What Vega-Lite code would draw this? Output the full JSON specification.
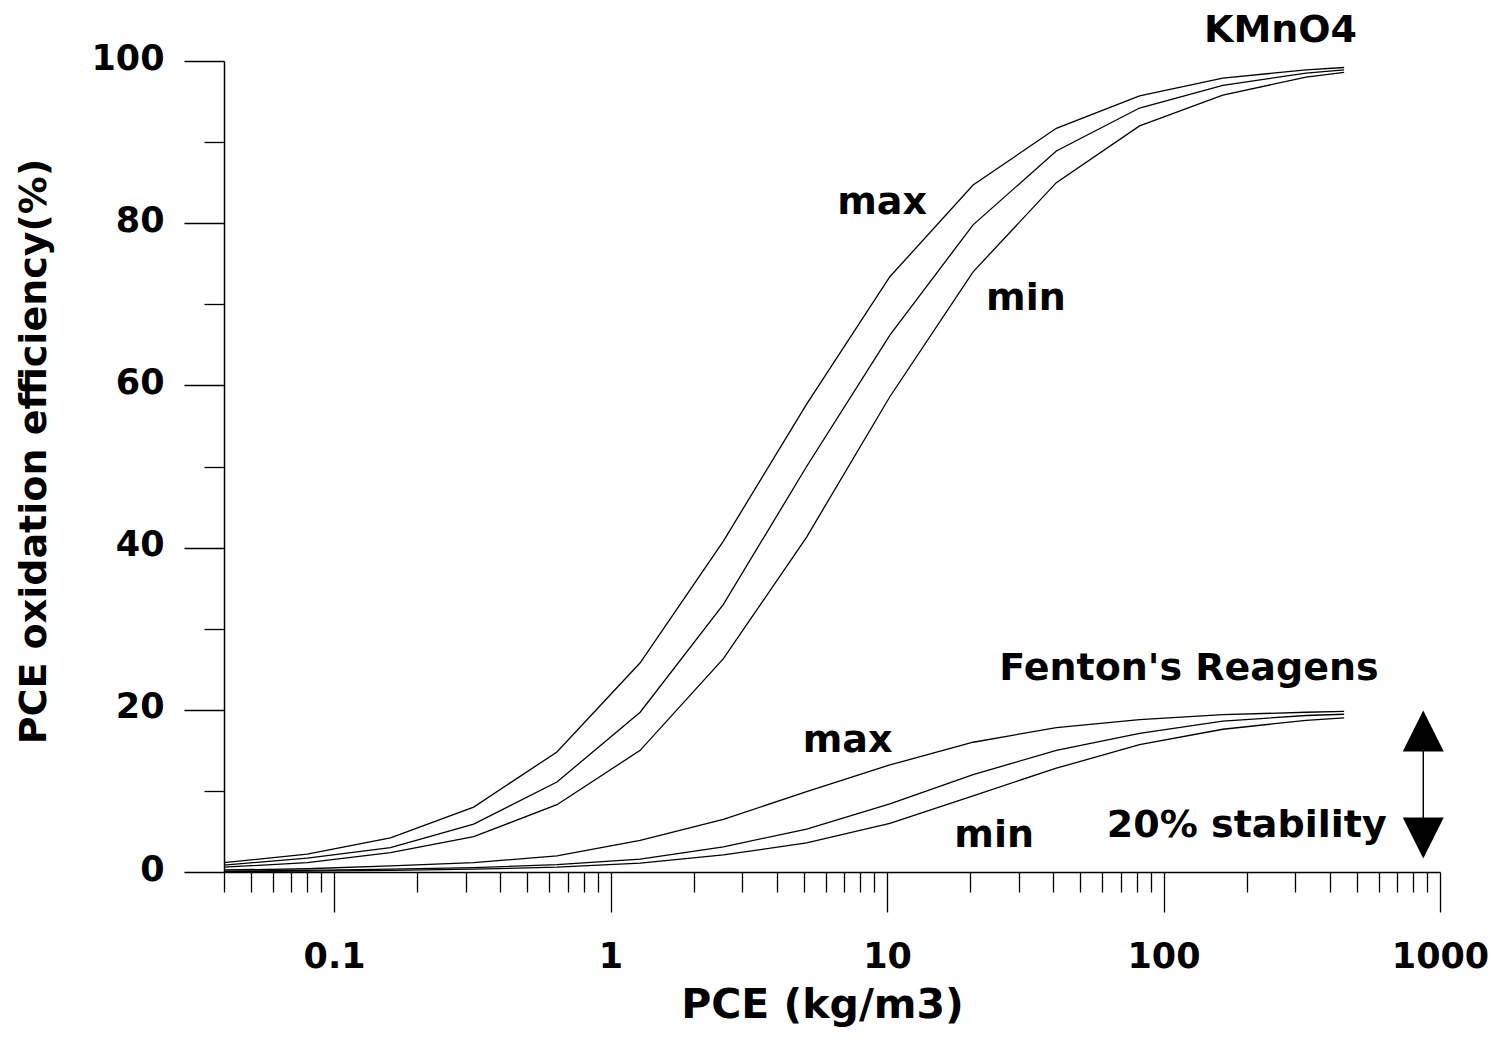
{
  "$schema": "https://vega.github.io/schema/vega-lite/v6.json",
  "width": 1216,
  "height": 811,
  "autosize": {"type": "none"},
  "padding": {"left": 224, "top": 61, "right": 52, "bottom": 168},
  "background": "white",
  "config": {
    "view": {"stroke": null},
    "axis": {"grid": false}
  },
  "datasets": {
    "curves": [
      {"curve": "KMnO4 max", "pce": 0.04, "eff": 1.15},
      {"curve": "KMnO4 max", "pce": 0.08, "eff": 2.2},
      {"curve": "KMnO4 max", "pce": 0.16, "eff": 4.2},
      {"curve": "KMnO4 max", "pce": 0.32, "eff": 8.0},
      {"curve": "KMnO4 max", "pce": 0.64, "eff": 14.8},
      {"curve": "KMnO4 max", "pce": 1.28, "eff": 25.8},
      {"curve": "KMnO4 max", "pce": 2.56, "eff": 40.8},
      {"curve": "KMnO4 max", "pce": 5.12, "eff": 57.7},
      {"curve": "KMnO4 max", "pce": 10.24, "eff": 73.4},
      {"curve": "KMnO4 max", "pce": 20.48, "eff": 84.7},
      {"curve": "KMnO4 max", "pce": 40.96, "eff": 91.7},
      {"curve": "KMnO4 max", "pce": 81.92, "eff": 95.7},
      {"curve": "KMnO4 max", "pce": 163.84, "eff": 97.9},
      {"curve": "KMnO4 max", "pce": 327.68, "eff": 98.9},
      {"curve": "KMnO4 max", "pce": 450, "eff": 99.2},

      {"curve": "KMnO4 mid", "pce": 0.04, "eff": 0.85},
      {"curve": "KMnO4 mid", "pce": 0.08, "eff": 1.7},
      {"curve": "KMnO4 mid", "pce": 0.16, "eff": 3.0},
      {"curve": "KMnO4 mid", "pce": 0.32, "eff": 5.9},
      {"curve": "KMnO4 mid", "pce": 0.64, "eff": 11.1},
      {"curve": "KMnO4 mid", "pce": 1.28, "eff": 19.7},
      {"curve": "KMnO4 mid", "pce": 2.56, "eff": 33.0},
      {"curve": "KMnO4 mid", "pce": 5.12, "eff": 50.0},
      {"curve": "KMnO4 mid", "pce": 10.24, "eff": 66.2},
      {"curve": "KMnO4 mid", "pce": 20.48, "eff": 79.8},
      {"curve": "KMnO4 mid", "pce": 40.96, "eff": 88.9},
      {"curve": "KMnO4 mid", "pce": 81.92, "eff": 94.2},
      {"curve": "KMnO4 mid", "pce": 163.84, "eff": 97.0},
      {"curve": "KMnO4 mid", "pce": 327.68, "eff": 98.5},
      {"curve": "KMnO4 mid", "pce": 450, "eff": 98.9},

      {"curve": "KMnO4 min", "pce": 0.04, "eff": 0.6},
      {"curve": "KMnO4 min", "pce": 0.08, "eff": 1.15},
      {"curve": "KMnO4 min", "pce": 0.16, "eff": 2.4},
      {"curve": "KMnO4 min", "pce": 0.32, "eff": 4.35},
      {"curve": "KMnO4 min", "pce": 0.64, "eff": 8.3},
      {"curve": "KMnO4 min", "pce": 1.28, "eff": 15.0},
      {"curve": "KMnO4 min", "pce": 2.56, "eff": 26.3},
      {"curve": "KMnO4 min", "pce": 5.12, "eff": 41.3},
      {"curve": "KMnO4 min", "pce": 10.24, "eff": 58.6},
      {"curve": "KMnO4 min", "pce": 20.48, "eff": 74.0},
      {"curve": "KMnO4 min", "pce": 40.96, "eff": 85.0},
      {"curve": "KMnO4 min", "pce": 81.92, "eff": 92.0},
      {"curve": "KMnO4 min", "pce": 163.84, "eff": 95.8},
      {"curve": "KMnO4 min", "pce": 327.68, "eff": 98.0},
      {"curve": "KMnO4 min", "pce": 450, "eff": 98.6},

      {"curve": "Fenton max", "pce": 0.04, "eff": 0.25},
      {"curve": "Fenton max", "pce": 0.08, "eff": 0.4},
      {"curve": "Fenton max", "pce": 0.16, "eff": 0.75},
      {"curve": "Fenton max", "pce": 0.32, "eff": 1.15},
      {"curve": "Fenton max", "pce": 0.64, "eff": 2.0},
      {"curve": "Fenton max", "pce": 1.28, "eff": 3.9},
      {"curve": "Fenton max", "pce": 2.56, "eff": 6.5},
      {"curve": "Fenton max", "pce": 5.12, "eff": 9.9},
      {"curve": "Fenton max", "pce": 10.24, "eff": 13.2},
      {"curve": "Fenton max", "pce": 20.48, "eff": 16.0},
      {"curve": "Fenton max", "pce": 40.96, "eff": 17.8},
      {"curve": "Fenton max", "pce": 81.92, "eff": 18.8},
      {"curve": "Fenton max", "pce": 163.84, "eff": 19.4},
      {"curve": "Fenton max", "pce": 327.68, "eff": 19.7},
      {"curve": "Fenton max", "pce": 450, "eff": 19.8},

      {"curve": "Fenton mid", "pce": 0.04, "eff": 0.12},
      {"curve": "Fenton mid", "pce": 0.08, "eff": 0.2},
      {"curve": "Fenton mid", "pce": 0.16, "eff": 0.35},
      {"curve": "Fenton mid", "pce": 0.32, "eff": 0.55},
      {"curve": "Fenton mid", "pce": 0.64, "eff": 0.9},
      {"curve": "Fenton mid", "pce": 1.28, "eff": 1.6},
      {"curve": "Fenton mid", "pce": 2.56, "eff": 3.1},
      {"curve": "Fenton mid", "pce": 5.12, "eff": 5.3},
      {"curve": "Fenton mid", "pce": 10.24, "eff": 8.4},
      {"curve": "Fenton mid", "pce": 20.48, "eff": 12.0},
      {"curve": "Fenton mid", "pce": 40.96, "eff": 15.0},
      {"curve": "Fenton mid", "pce": 81.92, "eff": 17.1},
      {"curve": "Fenton mid", "pce": 163.84, "eff": 18.6},
      {"curve": "Fenton mid", "pce": 327.68, "eff": 19.3},
      {"curve": "Fenton mid", "pce": 450, "eff": 19.45},

      {"curve": "Fenton min", "pce": 0.04, "eff": 0.05},
      {"curve": "Fenton min", "pce": 0.08, "eff": 0.1},
      {"curve": "Fenton min", "pce": 0.16, "eff": 0.2},
      {"curve": "Fenton min", "pce": 0.32, "eff": 0.35},
      {"curve": "Fenton min", "pce": 0.64, "eff": 0.6},
      {"curve": "Fenton min", "pce": 1.28, "eff": 1.1},
      {"curve": "Fenton min", "pce": 2.56, "eff": 2.1},
      {"curve": "Fenton min", "pce": 5.12, "eff": 3.6},
      {"curve": "Fenton min", "pce": 10.24, "eff": 6.0},
      {"curve": "Fenton min", "pce": 20.48, "eff": 9.4},
      {"curve": "Fenton min", "pce": 40.96, "eff": 12.8},
      {"curve": "Fenton min", "pce": 81.92, "eff": 15.7},
      {"curve": "Fenton min", "pce": 163.84, "eff": 17.6},
      {"curve": "Fenton min", "pce": 327.68, "eff": 18.7},
      {"curve": "Fenton min", "pce": 450, "eff": 19.0}
    ],
    "notes": [
      {"label": "KMnO4", "pce": 265, "eff": 102.4},
      {"label": "max", "pce": 9.6, "eff": 81.1},
      {"label": "min", "pce": 31.8, "eff": 69.3},
      {"label": "Fenton's Reagens", "pce": 123.6, "eff": 23.7},
      {"label": "max", "pce": 7.2, "eff": 14.8},
      {"label": "min", "pce": 24.4, "eff": 3.1},
      {"label": "20% stability", "pce": 200, "eff": 4.35}
    ],
    "shaft": [
      {"pce": 870, "eff": 17.4, "eff2": 4.2}
    ],
    "heads": [
      {"pce": 870, "eff": 17.4, "head": "up"},
      {"pce": 870, "eff": 4.2, "head": "down"}
    ]
  },
  "encoding": {
    "x": {
      "field": "pce",
      "type": "quantitative",
      "scale": {"type": "log", "domain": [0.04, 1000]},
      "axis": {
        "title": "PCE (kg/m3)",
        "titleFont": "DejaVu Sans",
        "titleFontSize": 41,
        "titleFontWeight": "bold",
        "titleColor": "black",
        "titleX": 598,
        "titleY": 145,
        "titleAlign": "center",
        "titleAnchor": null,
        "titleBaseline": "alphabetic",
        "values": [0.04, 0.05, 0.06, 0.07, 0.08, 0.09,
                   0.1, 0.2, 0.3, 0.4, 0.5, 0.6, 0.7, 0.8, 0.9,
                   1, 2, 3, 4, 5, 6, 7, 8, 9,
                   10, 20, 30, 40, 50, 60, 70, 80, 90,
                   100, 200, 300, 400, 500, 600, 700, 800, 900, 1000],
        "format": "~g",
        "labelExpr": "abs(log(datum.value)/LN10 - round(log(datum.value)/LN10)) < 1e-6 ? datum.label : ''",
        "labelFont": "DejaVu Sans",
        "labelFontSize": 35,
        "labelFontWeight": "bold",
        "labelColor": "black",
        "labelBaseline": "alphabetic",
        "labelPadding": 55,
        "labelFlush": false,
        "labelOverlap": false,
        "labelBound": false,
        "tickSize": {
          "condition": {"test": "abs(log(datum.value)/LN10 - round(log(datum.value)/LN10)) < 1e-6", "value": 40},
          "value": 20
        },
        "tickColor": "black",
        "tickWidth": 1.3,
        "domainColor": "black",
        "domainWidth": 1.5
      }
    },
    "y": {
      "field": "eff",
      "type": "quantitative",
      "scale": {"domain": [0, 100], "nice": false, "zero": true},
      "axis": {
        "title": "PCE oxidation efficiency(%)",
        "titleFont": "DejaVu Sans",
        "titleFontSize": 38,
        "titleFontWeight": "bold",
        "titleColor": "black",
        "titleAngle": 270,
        "titleX": -179,
        "titleY": 390,
        "titleAlign": "center",
        "titleAnchor": null,
        "titleBaseline": "alphabetic",
        "values": [0, 10, 20, 30, 40, 50, 60, 70, 80, 90, 100],
        "labelExpr": "datum.value % 20 === 0 ? datum.label : ''",
        "labelFont": "DejaVu Sans",
        "labelFontSize": 35,
        "labelFontWeight": "bold",
        "labelColor": "black",
        "labelBaseline": "alphabetic",
        "labelOffset": 8,
        "labelPadding": 20,
        "labelFlush": false,
        "labelOverlap": false,
        "labelBound": false,
        "tickSize": {
          "condition": {"test": "datum.value % 20 === 0", "value": 40},
          "value": 20
        },
        "tickColor": "black",
        "tickWidth": 1.3,
        "domainColor": "black",
        "domainWidth": 1.5
      }
    }
  },
  "layer": [
    {
      "data": {"name": "curves"},
      "mark": {"type": "line", "color": "black", "strokeWidth": 1.3},
      "encoding": {
        "detail": {"field": "curve", "type": "nominal"}
      }
    },
    {
      "data": {"name": "shaft"},
      "mark": {"type": "rule", "color": "black", "strokeWidth": 1.5},
      "encoding": {
        "y2": {"field": "eff2"}
      }
    },
    {
      "data": {"name": "heads"},
      "mark": {"type": "point", "filled": true, "color": "black", "opacity": 1, "size": 1681},
      "encoding": {
        "shape": {
          "field": "head",
          "type": "nominal",
          "scale": {"domain": ["up", "down"], "range": ["M0,-1L1,1L-1,1Z", "M-1,-1L1,-1L0,1Z"]},
          "legend": null
        }
      }
    },
    {
      "data": {"name": "notes"},
      "mark": {
        "type": "text",
        "font": "DejaVu Sans",
        "fontSize": 38,
        "fontWeight": "bold",
        "color": "black",
        "align": "center",
        "baseline": "alphabetic"
      },
      "encoding": {
        "text": {"field": "label", "type": "nominal"}
      }
    }
  ]
}
